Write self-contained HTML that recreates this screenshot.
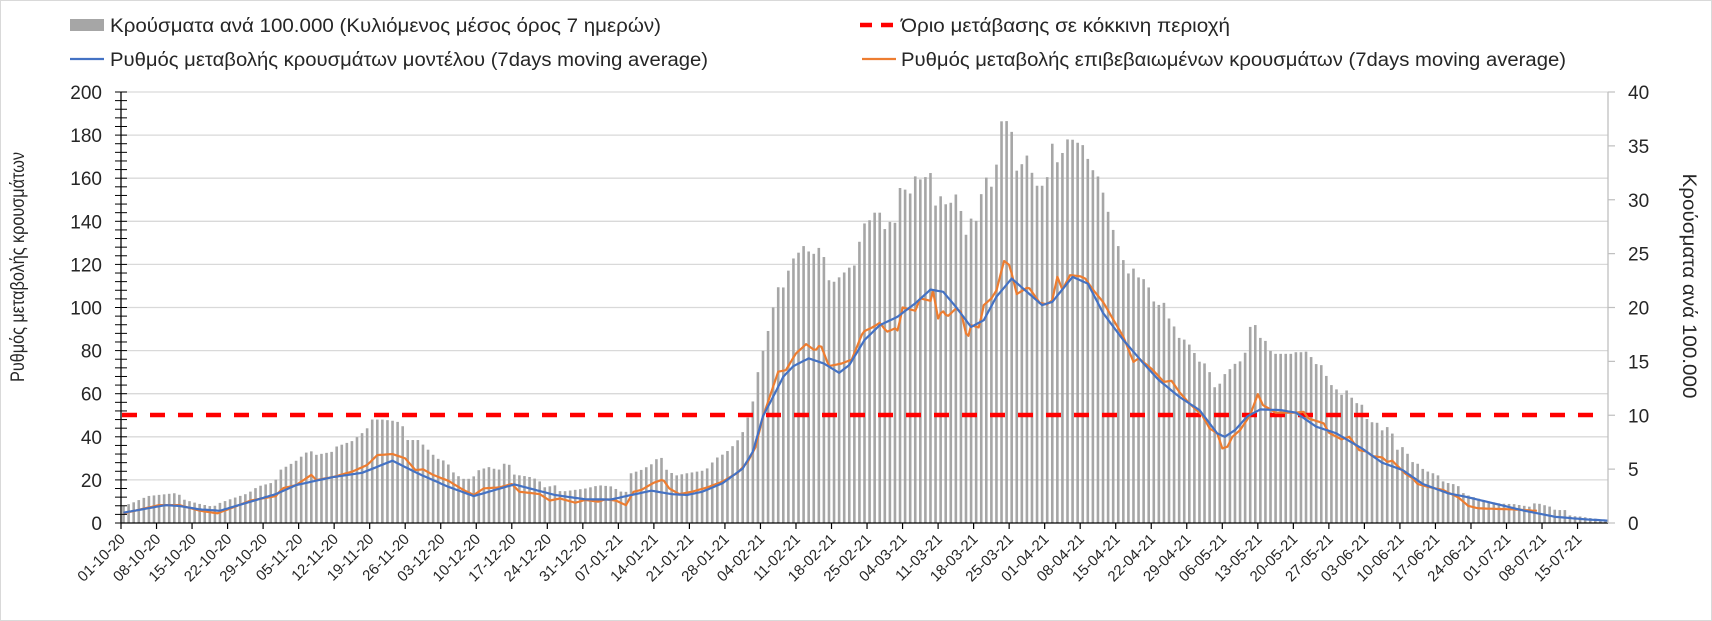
<!DOCTYPE html>
<html><head><meta charset="utf-8">
<style>
html,body{margin:0;padding:0;background:#fff;}
svg{display:block;font-family:"Liberation Sans",Arial,sans-serif;}
</style></head>
<body>
<svg id="c" width="1712" height="621" viewBox="0 0 1712 621" xmlns="http://www.w3.org/2000/svg">
<rect x="0.5" y="0.5" width="1711" height="620" fill="#fff" stroke="#d9d9d9"/>
<g id="grid"></g>
<g id="bars" fill="#a6a6a6"></g>
<line x1="122" y1="415" x2="1594" y2="415" stroke="#ff0000" stroke-width="4.5" stroke-dasharray="15,13"/>
<polyline id="orange" fill="none" stroke="#ed7d31" stroke-width="2.2" stroke-linejoin="round"/>
<polyline id="blue" fill="none" stroke="#4472c4" stroke-width="2.2" stroke-linejoin="round"/>
<g id="axes"></g>
<!-- legend -->
<rect x="70" y="19" width="34" height="12" fill="#a6a6a6"/>
<text x="110" y="32" font-size="19" fill="#262626" textLength="551" lengthAdjust="spacingAndGlyphs">Κρούσματα ανά 100.000 (Κυλιόμενος μέσος όρος 7 ημερών)</text>
<line x1="70" y1="59" x2="104" y2="59" stroke="#4472c4" stroke-width="2.2"/>
<text x="110" y="66" font-size="19" fill="#262626" textLength="598" lengthAdjust="spacingAndGlyphs">Ρυθμός μεταβολής κρουσμάτων μοντέλου (7days moving average)</text>
<line x1="860" y1="25" x2="896" y2="25" stroke="#ff0000" stroke-width="4.5" stroke-dasharray="12,9"/>
<text x="901" y="32" font-size="19" fill="#262626" textLength="329" lengthAdjust="spacingAndGlyphs">Όριο μετάβασης σε κόκκινη περιοχή</text>
<line x1="862" y1="59" x2="896" y2="59" stroke="#ed7d31" stroke-width="2.2"/>
<text x="901" y="66" font-size="19" fill="#262626" textLength="665" lengthAdjust="spacingAndGlyphs">Ρυθμός μεταβολής επιβεβαιωμένων κρουσμάτων (7days moving average)</text>
<text transform="translate(24,267) rotate(-90)" text-anchor="middle" font-size="19" fill="#262626" textLength="230" lengthAdjust="spacingAndGlyphs">Ρυθμός μεταβολής κρουσμάτων</text>
<text transform="translate(1683,286) rotate(90)" text-anchor="middle" font-size="19" fill="#262626" textLength="225" lengthAdjust="spacingAndGlyphs">Κρούσματα ανά 100.000</text>
</svg>
<script>
(function(){
var NS="http://www.w3.org/2000/svg";
function el(t,a,p,txt){var e=document.createElementNS(NS,t);for(var k in a)e.setAttribute(k,a[k]);if(txt!==undefined)e.textContent=txt;p.appendChild(e);return e;}
var X0=121,XR=1608,YB=523,YT=92,N=293,DW=(XR-X0)/N;
var ppuL=(YB-YT)/200, ppuR=(YB-YT)/40;
function interp(pts,d){if(d<=pts[0][0])return pts[0][1];for(var i=1;i<pts.length;i++){if(d<=pts[i][0]){var a=pts[i-1],b=pts[i];return a[1]+(b[1]-a[1])*(d-a[0])/(b[0]-a[0]);}}return pts[pts.length-1][1];}
var grid=document.getElementById('grid');
for(var v=20;v<=200;v+=20){var y=YB-v*ppuL;el('line',{x1:X0,y1:y,x2:XR,y2:y,stroke:'#d9d9d9','stroke-width':1.3},grid);}
var bars=[[0,1.5],[2.4,1.9],[5.3,2.5],[7.3,2.6],[10.3,2.75],[11.2,2.8],[12.2,2.2],[15.2,1.8],[18.2,1.5],[19.1,1.8],[22.1,2.3],[25,2.75],[27,3.4],[30.3,3.8],[31.3,4.9],[34.3,5.7],[37.2,6.8],[38.2,6.3],[41.5,6.6],[42.5,7.1],[45.5,7.6],[47.4,8.3],[48.4,8.7],[49.4,9.6],[51.4,9.6],[53.4,9.5],[55.3,9.3],[56.3,7.7],[58.6,7.7],[60.3,6.9],[62.2,6.0],[64.2,5.7],[65.2,4.8],[67.2,4.1],[69.1,4.1],[70.5,4.9],[72.4,5.2],[74.4,4.9],[75.4,5.5],[76.4,5.5],[77.4,4.5],[80.3,4.3],[82.3,4.0],[83.3,3.3],[85.6,3.5],[86.6,2.9],[91.5,3.2],[94.2,3.5],[96.5,3.4],[99.4,2.7],[100.4,4.6],[102.4,4.9],[104.4,5.4],[106.3,6.3],[107.3,5.0],[109.3,4.4],[111.3,4.6],[115.2,4.9],[117.2,6.0],[119.1,6.5],[121.1,7.4],[122.4,8.3],[124.4,11.0],[125.4,13.8],[126.4,15.8],[127.4,17.6],[128.4,19.8],[129.4,21.9],[130.4,21.7],[131.4,23.3],[132.4,24.5],[133.4,25.0],[134.3,25.8],[135.3,25.3],[136.3,24.8],[137.3,25.7],[138.6,24.6],[139.6,22.3],[140.6,22.4],[141.5,22.8],[143.5,23.7],[144.5,23.9],[145.5,26.1],[146.5,27.8],[147.5,28.1],[148.5,28.8],[149.5,28.8],[150.4,27.2],[151.4,28.0],[152.4,27.5],[153.4,31.1],[154.4,31.0],[155.4,30.4],[156.4,32.2],[157.4,31.9],[158.3,31.8],[159.3,33.3],[160.3,29.2],[161.3,30.5],[162.3,29.6],[163.3,29.5],[164.3,30.6],[165.2,30.1],[166.2,26.3],[167.6,28.4],[168.6,28.0],[169.6,30.8],[170.6,32.2],[171.6,31.1],[172.6,33.5],[173.6,37.7],[174.5,37.3],[175.5,36.3],[176.5,32.7],[177.5,33.3],[178.5,34.1],[179.5,32.5],[180.5,31.3],[181.5,31.3],[182.5,32.1],[183.4,35.4],[184.4,33.4],[185.4,34.2],[186.4,35.6],[187.4,35.6],[188.4,35.3],[189.4,35.2],[190.4,33.9],[191.4,32.8],[192.6,32.1],[193.6,30.5],[194.6,28.7],[195.5,27.2],[196.5,25.7],[197.5,24.4],[198.4,23.1],[199.4,23.7],[200.4,22.8],[201.4,22.7],[202.4,22.0],[203.4,20.6],[204.4,20.2],[205.4,20.6],[206.3,19.1],[207.3,18.5],[208.3,17.2],[209.3,17.1],[210.3,16.7],[211.3,16.0],[212.2,15.0],[213.2,14.9],[214.2,14.6],[215.2,12.6],[216.2,12.6],[217.2,13.7],[218.2,14.1],[219.2,14.7],[220.5,15.0],[221.5,15.8],[222.5,18.2],[223.4,18.5],[224.4,17.2],[225.4,17.0],[226.4,16.0],[227.5,15.7],[231,15.7],[232,16.0],[233,15.7],[234,16.1],[235,14.7],[236,14.8],[237,14.5],[238,12.8],[239,12.8],[240,12.0],[241,11.8],[241.6,12.4],[243,11.2],[245,10.9],[245.6,9.4],[247.5,9.3],[248.5,8.6],[249.5,8.9],[250.5,8.3],[251.5,6.8],[252.4,7.1],[253.4,6.5],[254.7,5.5],[255.7,5.5],[256.7,4.9],[258.6,4.6],[259.6,4.4],[260.6,3.8],[262.6,3.6],[263.6,3.4],[264.6,2.7],[266.5,2.4],[268.5,2.1],[271.8,1.8],[274.5,1.75],[277.7,1.5],[278.7,1.9],[279.7,1.75],[281.7,1.5],[282.6,1.2],[284.6,1.2],[285.6,0.65],[287.6,0.6],[289.6,0.45],[291.5,0.35],[292.6,0.3]];
var bg=document.getElementById('bars');
for(var d=0;d<N;d++){var v=interp(bars,d+0.5);var h=v*ppuR;var cx=X0+DW*(d+0.5);el('rect',{x:(cx-1.3).toFixed(2),y:(YB-h).toFixed(2),width:2.6,height:h.toFixed(2)},bg);}
var blue=[[0,4.8],[8.3,8.3],[11,7.9],[15,6.3],[19,5.7],[25,9.9],[30,13.4],[34,17.6],[41,21.2],[47,23.3],[53,28.9],[58,23.0],[64,16.8],[69,12.5],[77,17.9],[85,13.0],[91,11.0],[96,10.9],[104,15.0],[108,13.4],[111,13.0],[114,14.5],[118,18.4],[122,25.3],[124,33.1],[126,49.6],[128,58.6],[130,67.9],[132,72.8],[135,76.4],[138,74.0],[141,69.7],[143,73.3],[146,84.9],[149,91.8],[152.5,95.7],[156,101.9],[159,108.3],[161.5,107.3],[164,100.3],[167,91.0],[169.5,94.1],[172,105],[175,113.4],[178,107.3],[181,101.1],[183,102.6],[187,114.2],[190,111.1],[193,97.5],[197,84.9],[201,74.0],[204,66.3],[208,58.6],[212,52.4],[215.5,41.6],[217,40.0],[219,43.1],[221.5,49.6],[224,52.7],[228,52.4],[231,51.2],[235,44.7],[239,41.6],[244,34.6],[248,28.0],[252,24.6],[256,18.1],[261,13.8],[265,11.9],[270,9.1],[276,5.7],[282,2.9],[288,1.7],[292.6,1.1]];
var orange=[[0,4.5],[7,8.3],[11,8.3],[15,5.7],[18.5,4.5],[22,7.6],[25,10.4],[30,12.5],[31.3,16.1],[34,17.6],[37,22.3],[38,19.9],[41.5,21.5],[45,23.8],[48,26.9],[50,31.5],[53,32.0],[55.5,30.0],[57.5,24.6],[59,24.9],[61,22.3],[64,19.6],[67,15.3],[69,13.0],[71,16.1],[74,16.5],[76.5,18.1],[78,14.5],[82,13.4],[84,10.4],[86,11.4],[89,9.4],[91,10.7],[93.5,9.9],[95,11.0],[97,10.4],[99,8.3],[100.5,14.5],[102,15.3],[104.5,18.7],[106.3,20.2],[107.5,16.1],[109.5,13.4],[112,14.5],[115,16.5],[118,19.2],[121,23.3],[123,28.4],[124.5,35.1],[126,49.3],[129,70.2],[130.5,70.9],[132.5,78.7],[134.5,83.0],[136.3,79.9],[137.3,83.0],[139,72.8],[141.5,74.0],[143.5,75.9],[145.7,88.7],[147.5,90.7],[149,92.9],[150.4,88.7],[152,90.3],[152.6,89.2],[153.5,100],[156,98.5],[157,104.2],[159,103.1],[159.5,107.7],[160.5,94.9],[161.3,98.8],[162.3,95.7],[164,99.5],[165,98.0],[166.3,84.9],[167,91.8],[168.6,90.7],[169.5,101.1],[171,104.2],[172,108],[173.5,121.6],[174.6,119.6],[176,106.2],[178.3,109.6],[180.5,102.2],[182,101.5],[183,103.4],[184,114.2],[185,108.3],[186.5,115],[188.5,114.5],[189.5,113.4],[191,108.3],[193,102.6],[197,86.4],[199,74.8],[200,76.4],[202.5,71.7],[205,65.5],[206.5,66.0],[208,60.9],[210,55.5],[212.5,50.1],[214,43.9],[215.5,41.6],[216.5,34.6],[217.5,35.4],[218.5,40.0],[220,43.1],[222,50.1],[223.5,59.8],[224.5,54.7],[226,52.7],[227,51.2],[231,51.2],[232.5,51.6],[233.5,48.5],[235,47.4],[236.5,46.2],[237.5,41.9],[240,38.8],[241.5,40.0],[243.5,33.8],[245,33.1],[246,31.1],[248,30.4],[249,28.4],[250,28.9],[252.5,23.0],[254,20.7],[255,18.1],[257,16.8],[260,15.3],[263,11.9],[265,7.9],[267,6.8],[274,6.3],[278,5.7],[278.8,5.7]];
function pts(arr,end){var s=[];for(var d=0;d<=end+0.001;d+=0.5){var dd=Math.min(d,end);s.push((X0+DW*(dd+0.5)).toFixed(1)+','+(YB-interp(arr,dd)*ppuL).toFixed(1));}return s.join(' ');}
document.getElementById('blue').setAttribute('points',pts(blue,292.6));
document.getElementById('orange').setAttribute('points',pts(orange,278.8));
var ax=document.getElementById('axes');
el('line',{x1:X0,y1:YT,x2:X0,y2:YB,stroke:'#000','stroke-width':1.3},ax);
el('line',{x1:X0,y1:YB,x2:XR,y2:YB,stroke:'#000','stroke-width':1.3},ax);
el('line',{x1:XR,y1:YT,x2:XR,y2:YB,stroke:'#bfbfbf','stroke-width':1.3},ax);
for(var v=0;v<=200;v+=4){var y=YB-v*ppuL;el('line',{x1:X0-6,y1:y,x2:X0+6,y2:y,stroke:'#000','stroke-width':1},ax);}
for(var v=0;v<=200;v+=20){var y=YB-v*ppuL;el('text',{x:102,y:y+7,'text-anchor':'end','font-size':19,fill:'#262626'},ax,String(v));}
for(var v=0;v<=40;v+=5){var y=YB-v*ppuR;el('line',{x1:XR,y1:y,x2:XR+7,y2:y,stroke:'#bfbfbf','stroke-width':1.2},ax);el('text',{x:1628,y:y+7,'font-size':19,fill:'#262626'},ax,String(v));}
var start=new Date(Date.UTC(2020,9,1));
for(var d=0;d<=287;d+=7){var x=X0+DW*d;el('line',{x1:x,y1:YB,x2:x,y2:YB+6,stroke:'#000','stroke-width':1.2},ax);
var dt=new Date(start.getTime()+d*86400000);var s=('0'+dt.getUTCDate()).slice(-2)+'-'+('0'+(dt.getUTCMonth()+1)).slice(-2)+'-'+String(dt.getUTCFullYear()).slice(-2);
el('text',{transform:'translate('+(x+5)+','+(YB+17)+') rotate(-45)','text-anchor':'end','font-size':15,fill:'#262626'},ax,s);}
})();
</script>
</body></html>
